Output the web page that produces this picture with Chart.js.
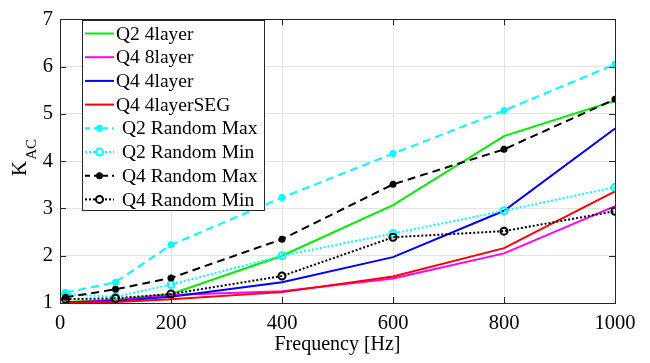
<!DOCTYPE html>
<html>
<head>
<meta charset="utf-8">
<script src="https://cdn.jsdelivr.net/npm/chart.js@4.4.1/dist/chart.umd.min.js"></script>
<style>
  html, body { margin: 0; padding: 0; background: #fff; }
</style>
</head>
<body>
<canvas id="kac" width="650" height="363"></canvas>
<script>
/* global Chart */

// frequency points [Hz]
const freq = [10, 100, 200, 400, 600, 800, 1000]

// K_AC per winding layout
const q2Layer4 = [1.02, 1.07, 1.19, 2.00, 3.07, 4.53, 5.28]
const q4Layer8 = [1.01, 1.06, 1.17, 1.25, 1.52, 2.05, 3.05]
const q4Layer4 = [1.01, 1.04, 1.13, 1.44, 1.97, 2.95, 4.69]
const q4Layer4Seg = [1.00, 1.02, 1.08, 1.23, 1.56, 2.16, 3.36]
const q2RandMax = [1.22, 1.44, 2.23, 3.23, 4.16, 5.07, 6.05]
const q2RandMin = [1.19, 1.13, 1.39, 2.00, 2.47, 2.95, 3.45]
const q4RandMax = [1.12, 1.29, 1.53, 2.35, 3.51, 4.25, 5.31]
const q4RandMin = [1.08, 1.10, 1.19, 1.57, 2.39, 2.52, 2.94]

const xTicks = [0, 200, 400, 600, 800, 1000]
const yTicks = [1, 2, 3, 4, 5, 6, 7]

const FONT = '"Liberation Serif", "Times New Roman", serif'
const AXIS = '#262626'

const pts = ys => freq.map((f, i) => ({ x: f, y: ys[i] }))

function series (label, ys, color, kind) {
  const ds = {
    label,
    data: pts(ys),
    borderColor: color,
    backgroundColor: color,
    borderWidth: 2,
    pointRadius: 0,
    tension: 0
  }
  if (kind === 'max') {
    ds.borderDash = [8, 5]
    ds.pointRadius = 3.5
    ds.pointBorderWidth = 0
  } else if (kind === 'min') {
    ds.borderDash = [2, 2]
    ds.pointRadius = 3.5
    ds.pointBorderWidth = 2
    ds.pointBackgroundColor = 'rgba(0,0,0,0)'
  }
  ds.kind = kind
  return ds
}

const datasets = [
  series('Q2 4layer', q2Layer4, '#00ee00', 'solid'),
  series('Q4 8layer', q4Layer8, '#ff00ff', 'solid'),
  series('Q4 4layer', q4Layer4, '#0000ff', 'solid'),
  series('Q4 4layerSEG', q4Layer4Seg, '#ff0000', 'solid'),
  series('Q2 Random Max', q2RandMax, '#00ffff', 'max'),
  series('Q2 Random Min', q2RandMin, '#00ffff', 'min'),
  series('Q4 Random Max', q4RandMax, '#000000', 'max'),
  series('Q4 Random Min', q4RandMin, '#000000', 'min')
]
// later series on top
datasets.forEach((d, i) => { d.order = datasets.length - i })

// box, inward ticks, y title and legend
const frame = {
  id: 'frame',
  afterDatasetsDraw (chart) {
    const { ctx, chartArea: a, scales: { x, y } } = chart
    ctx.save()
    ctx.strokeStyle = AXIS
    ctx.lineWidth = 1
    ctx.beginPath()
    xTicks.forEach(v => {
      const px = Math.round(x.getPixelForValue(v)) + 0.5
      ctx.moveTo(px, a.bottom); ctx.lineTo(px, a.bottom - 6)
      ctx.moveTo(px, a.top); ctx.lineTo(px, a.top + 6)
    })
    yTicks.forEach(v => {
      const py = Math.round(y.getPixelForValue(v)) + 0.5
      ctx.moveTo(a.left, py); ctx.lineTo(a.left + 6, py)
      ctx.moveTo(a.right, py); ctx.lineTo(a.right - 6, py)
    })
    ctx.stroke()
    ctx.strokeRect(Math.round(a.left) + 0.5, Math.round(a.top) + 0.5,
      Math.round(a.right - a.left), Math.round(a.bottom - a.top))

    // y title K_AC
    ctx.translate(26, 163)
    ctx.rotate(-Math.PI / 2)
    ctx.fillStyle = '#000'
    ctx.textBaseline = 'alphabetic'
    ctx.textAlign = 'left'
    ctx.font = '21px ' + FONT
    const kw = ctx.measureText('K').width
    ctx.fillText('K', -13, 0)
    ctx.font = '15px ' + FONT
    ctx.fillText('AC', -13 + kw + 1, 10)
    ctx.restore()
  },
  afterDraw (chart) {
    const { ctx } = chart
    const box = { left: 82, top: 20, width: 182, height: 190 }
    ctx.save()
    ctx.fillStyle = '#fff'
    ctx.fillRect(box.left, box.top, box.width, box.height)
    ctx.strokeStyle = AXIS
    ctx.lineWidth = 1
    ctx.strokeRect(box.left + 0.5, box.top + 0.5, box.width, box.height)
    ctx.font = '19.5px ' + FONT
    ctx.textBaseline = 'middle'
    ctx.textAlign = 'left'
    chart.data.datasets.forEach((d, i) => {
      const cy = box.top + 13.5 + i * 23.7
      ctx.strokeStyle = d.borderColor
      ctx.lineWidth = 2
      ctx.setLineDash(d.kind === 'max' ? [5, 4] : d.kind === 'min' ? [2, 2] : [])
      ctx.beginPath()
      ctx.moveTo(85, cy); ctx.lineTo(114, cy)
      ctx.stroke()
      ctx.setLineDash([])
      if (d.kind === 'max') {
        ctx.fillStyle = d.borderColor
        ctx.beginPath(); ctx.arc(99.5, cy, 3.5, 0, Math.PI * 2); ctx.fill()
      } else if (d.kind === 'min') {
        ctx.fillStyle = '#fff'
        ctx.beginPath(); ctx.arc(99.5, cy, 3.5, 0, Math.PI * 2); ctx.fill(); ctx.stroke()
      }
      ctx.fillStyle = '#000'
      ctx.fillText(d.label, d.kind === 'solid' ? 116 : 122, cy + 1)
    })
    ctx.restore()
  }
}

new Chart(document.getElementById('kac'), {
  type: 'line',
  data: { datasets },
  plugins: [frame],
  options: {
    responsive: false,
    animation: false,
    devicePixelRatio: 1,
    layout: { padding: { left: 0, right: 35, top: 11, bottom: 6 } },
    plugins: { legend: { display: false }, tooltip: { enabled: false } },
    scales: {
      x: {
        type: 'linear',
        min: 0,
        max: 1000,
        afterBuildTicks: s => { s.ticks = xTicks.map(v => ({ value: v })) },
        afterFit: s => { s.height = 54 },
        grid: { color: '#e3e3e3', drawTicks: false },
        border: { display: false },
        ticks: { color: '#000', padding: 8, font: { family: FONT, size: 20.5 }, callback: v => String(v) },
        title: {
          display: true,
          text: 'Frequency [Hz]',
          color: '#000',
          padding: { top: 0, bottom: 0 },
          font: { family: FONT, size: 20 }
        }
      },
      y: {
        min: 1,
        max: 7,
        afterBuildTicks: s => { s.ticks = yTicks.map(v => ({ value: v })) },
        afterFit: s => { s.width = 60 },
        grid: { color: '#e3e3e3', drawTicks: false },
        border: { display: false },
        ticks: { color: '#000', padding: 7, font: { family: FONT, size: 20.5 }, callback: v => String(v) }
      }
    }
  }
})
</script>
</body>
</html>
